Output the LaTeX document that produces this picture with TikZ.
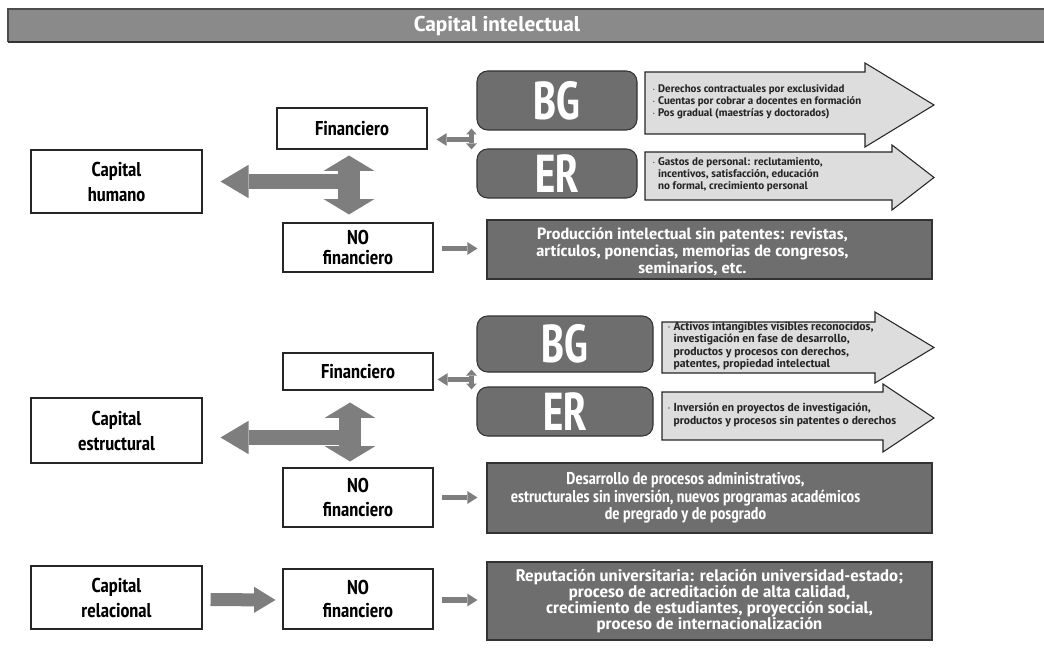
\documentclass[tikz,border=0pt]{standalone}
\usepackage{fontspec}
\IfFontExistsTF{PT Sans Narrow}{\def\narrowname{PT Sans Narrow}\def\narrowstretch{1}}{\def\narrowname{PT Sans}\def\narrowstretch{0.82}}
\setmainfont{\narrowname}[FakeStretch=\narrowstretch]
\newfontfamily\widefont{\narrowname}[FakeStretch=\fpeval{1.2*\narrowstretch}]
\newfontfamily\tagfont{\narrowname}[FakeStretch=\fpeval{0.88*\narrowstretch}]
\usetikzlibrary{arrows.meta,calc}

\definecolor{bargray}{HTML}{8A8A8A}
\definecolor{boxgray}{HTML}{6E6E6E}
\definecolor{tipgray}{HTML}{7E7E7E}
\definecolor{palegray}{HTML}{DDDDDD}

\begin{document}
\begin{tikzpicture}[x=0.75pt,y=-0.75pt,
    capbox/.style={draw=black!85, line width=0.8pt, fill=white, align=center, inner sep=0pt,
        font=\bfseries\fontsize{15}{18.75}\selectfont},
    tagbox/.style={draw=black!80, line width=0.8pt, fill=boxgray, rounded corners=8pt, inner sep=0pt,
        text=white, font=\tagfont\bfseries\fontsize{40}{40}\selectfont},
    darkbox/.style={draw=black!80, line width=0.8pt, fill=boxgray, inner sep=0pt,
        minimum width=333.75pt},
    darktext/.style={text=white, align=center, inner sep=0pt},
    palearrow/.style={draw=black!85, line width=0.8pt, fill=palegray},
    notes/.style={anchor=west, align=left, inner sep=0pt, text=black!85},
    fatarrow/.style={tipgray, line width=11.25pt,
        -{Triangle[length=21pt,width=25pt,line width=0pt]}},
    fatdouble/.style={tipgray, line width=17pt,
        {Triangle[length=11.5pt,width=38pt,line width=0pt]}-{Triangle[length=11.5pt,width=38pt,line width=0pt]}},
    midarrow/.style={tipgray, line width=9.75pt,
        -{Triangle[length=16pt,width=19.5pt,line width=0pt]}},
    thinarrow/.style={tipgray, line width=4pt,
        -{Triangle[length=7.5pt,width=9.5pt,line width=0pt]}},
    thindouble/.style={tipgray, line width=3.2pt,
        {Triangle[length=4.5pt,width=8pt,line width=0pt]}-{Triangle[length=4.5pt,width=8pt,line width=0pt]}}]
    \useasboundingbox (0,0) rectangle (1044,648);

    % Title bar
    \fill[bargray] (8,9) rectangle (1044,42);
    \draw[black!70, line width=1pt] (8,42) -- (8,9) -- (1044,9);
    \draw[black!80, line width=1.5pt] (8,42) -- (1044,42);
    \node[text=white, font=\widefont\bfseries\fontsize{16}{16}\selectfont] (title) at (497,26) {Capital intelectual};

    % Capital humano
    \node[capbox, minimum width=128.25pt, minimum height=47.25pt] (hum) at (116.5,181.5) {Capital\\humano};
    \node[capbox, minimum width=112.5pt, minimum height=30.75pt] (fin1) at (352,128.5) {Financiero};
    \node[capbox, minimum width=112.5pt, minimum height=36.75pt, font=\bfseries\fontsize{15}{15}\selectfont] (nof1) at (358,247.5) {NO\\financiero};

    \node[tagbox, minimum width=120pt, minimum height=44.25pt] (bg1) at (557,100.5) {BG};
    \node[tagbox, minimum width=120pt, minimum height=36.75pt] (er1) at (557,173.5) {ER};

    \draw[palearrow] (645,72) -- (865,72) -- (865,63) -- (934,105) -- (865,147) -- (865,134) -- (645,134) -- cycle;
    \draw[palearrow] (645,152) -- (892,152) -- (892,145) -- (934,177.5) -- (892,210) -- (892,200) -- (645,200) -- cycle;
    \node[notes, font=\widefont\bfseries\fontsize{8.2}{8.8}\selectfont] (bgnote1) at (652,102) {$\cdot$ Derechos contractuales por exclusividad\\
        $\cdot$ Cuentas por cobrar a docentes en formación\\
        $\cdot$ Pos gradual (maestrías y doctorados)};
    \node[notes, font=\widefont\bfseries\fontsize{8.3}{8.9}\selectfont] (ernote1) at (652,175) {$\cdot$ Gastos de personal: reclutamiento,\\
        \hphantom{$\cdot$ }incentivos, satisfacción, educación\\
        \hphantom{$\cdot$ }no formal, crecimiento personal};

    \node[darkbox, minimum height=44.25pt] (prod) at (709.5,249.5) {};
    \node[darktext, font=\widefont\bfseries\fontsize{12.2}{12.8}\selectfont] (prodtext) at ($(prod.center)+(-17,2)$) {Producción intelectual sin patentes: revistas,\\
        artículos, ponencias, memorias de congresos,\\ seminarios, etc.};

    \draw[fatarrow] (fin1.south |- hum.east) -- ($(hum.east)+(18,0)$);
    \draw[fatdouble] ($(fin1.south)+(-3,6)$) -- ($(fin1.south |- nof1.north)+(-3,-8)$);
    \coordinate (j1) at ($(bg1.south west)!0.5!(er1.north west)+(-5,0)$);
    \draw[thinarrow] (j1) -- ($(j1 -| fin1.east)+(9,0)$);
    \draw[thindouble] ($(j1)+(0,-11)$) -- ($(j1)+(0,10)$);
    \draw[thinarrow] ($(nof1.east)+(8,1)$) -- ($(prod.west |- nof1.east)+(-9,1)$);

    % Capital estructural
    \node[capbox, minimum width=128.25pt, minimum height=48.75pt] (est) at (116.5,430.5) {Capital\\estructural};
    \node[capbox, minimum width=112.5pt, minimum height=27.75pt] (fin2) at (358,371.5) {Financiero};
    \node[capbox, minimum width=112.5pt, minimum height=44.25pt, font=\bfseries\fontsize{15}{17.5}\selectfont] (nof2) at (358,497.5) {NO\\financiero};

    \node[tagbox, minimum width=132pt, minimum height=42pt] (bg2) at (565,344) {BG};
    \node[tagbox, minimum width=132pt, minimum height=36.75pt] (er2) at (565,411.5) {ER};

    \draw[palearrow] (662,322) -- (875,322) -- (875,312) -- (934,347.5) -- (875,383) -- (875,373) -- (662,373) -- cycle;
    \draw[palearrow] (662,392) -- (883,392) -- (883,384) -- (934,418) -- (883,452) -- (883,440) -- (662,440) -- cycle;
    \node[notes, font=\widefont\bfseries\fontsize{8.8}{9.4}\selectfont] (bgnote2) at (667,346) {$\cdot$ Activos intangibles visibles reconocidos,\\
        \hphantom{$\cdot$ }investigación en fase de desarrollo,\\
        \hphantom{$\cdot$ }productos y procesos con derechos,\\
        \hphantom{$\cdot$ }patentes, propiedad intelectual};
    \node[notes, font=\widefont\bfseries\fontsize{8.7}{9.4}\selectfont] (ernote2) at (667,415) {$\cdot$ Inversión en proyectos de investigación,\\
        \hphantom{$\cdot$ }productos y procesos sin patentes o derechos};

    \node[darkbox, minimum height=52.5pt] (desa) at (709.5,498) {};
    \node[darktext, font=\bfseries\fontsize{12.8}{13}\selectfont] (desatext) at ($(desa.center)+(-24,0)$) {Desarrollo de procesos administrativos,\\
        estructurales sin inversión, nuevos programas académicos\\ de pregrado y de posgrado};

    \draw[fatarrow] ($(fin2.south |- est.east)+(-8,7)$) -- ($(est.east)+(18,7)$);
    \draw[fatdouble] ($(fin2.south)+(-8,12)$) -- ($(fin2.south |- nof2.north)+(-8,-6)$);
    \coordinate (j2) at ($(bg2.south west)!0.5!(er2.north west)+(-5,0)$);
    \draw[thinarrow] (j2) -- ($(j2 -| fin2.east)+(4,0)$);
    \draw[thindouble] ($(j2)+(0,-10)$) -- ($(j2)+(0,10)$);
    \draw[thinarrow] ($(nof2.east)+(8,0)$) -- ($(desa.west |- nof2.east)+(-9,0)$);

    % Capital relacional
    \node[capbox, minimum width=128.25pt, minimum height=47.25pt] (rel) at (116.5,597.5) {Capital\\relacional};
    \node[capbox, minimum width=112.5pt, minimum height=45pt, font=\bfseries\fontsize{15}{17.5}\selectfont] (nof3) at (358,599) {NO\\financiero};
    \node[darkbox, minimum height=58.5pt] (repu) at (709.5,601) {};
    \node[darktext, font=\widefont\bfseries\fontsize{12.6}{11.9}\selectfont] (reputext) at (repu.center) {Reputación universitaria: relación universidad-estado;\\
        proceso de acreditación de alta calidad,\\ crecimiento de estudiantes, proyección social,\\ proceso de internacionalización};

    \draw[midarrow] ($(rel.east)+(8,2)$) -- ($(nof3.west)+(-7,1)$);
    \draw[thinarrow] ($(nof3.east)+(8,1)$) -- ($(repu.west |- nof3.east)+(-9,1)$);
\end{tikzpicture}
\end{document}
